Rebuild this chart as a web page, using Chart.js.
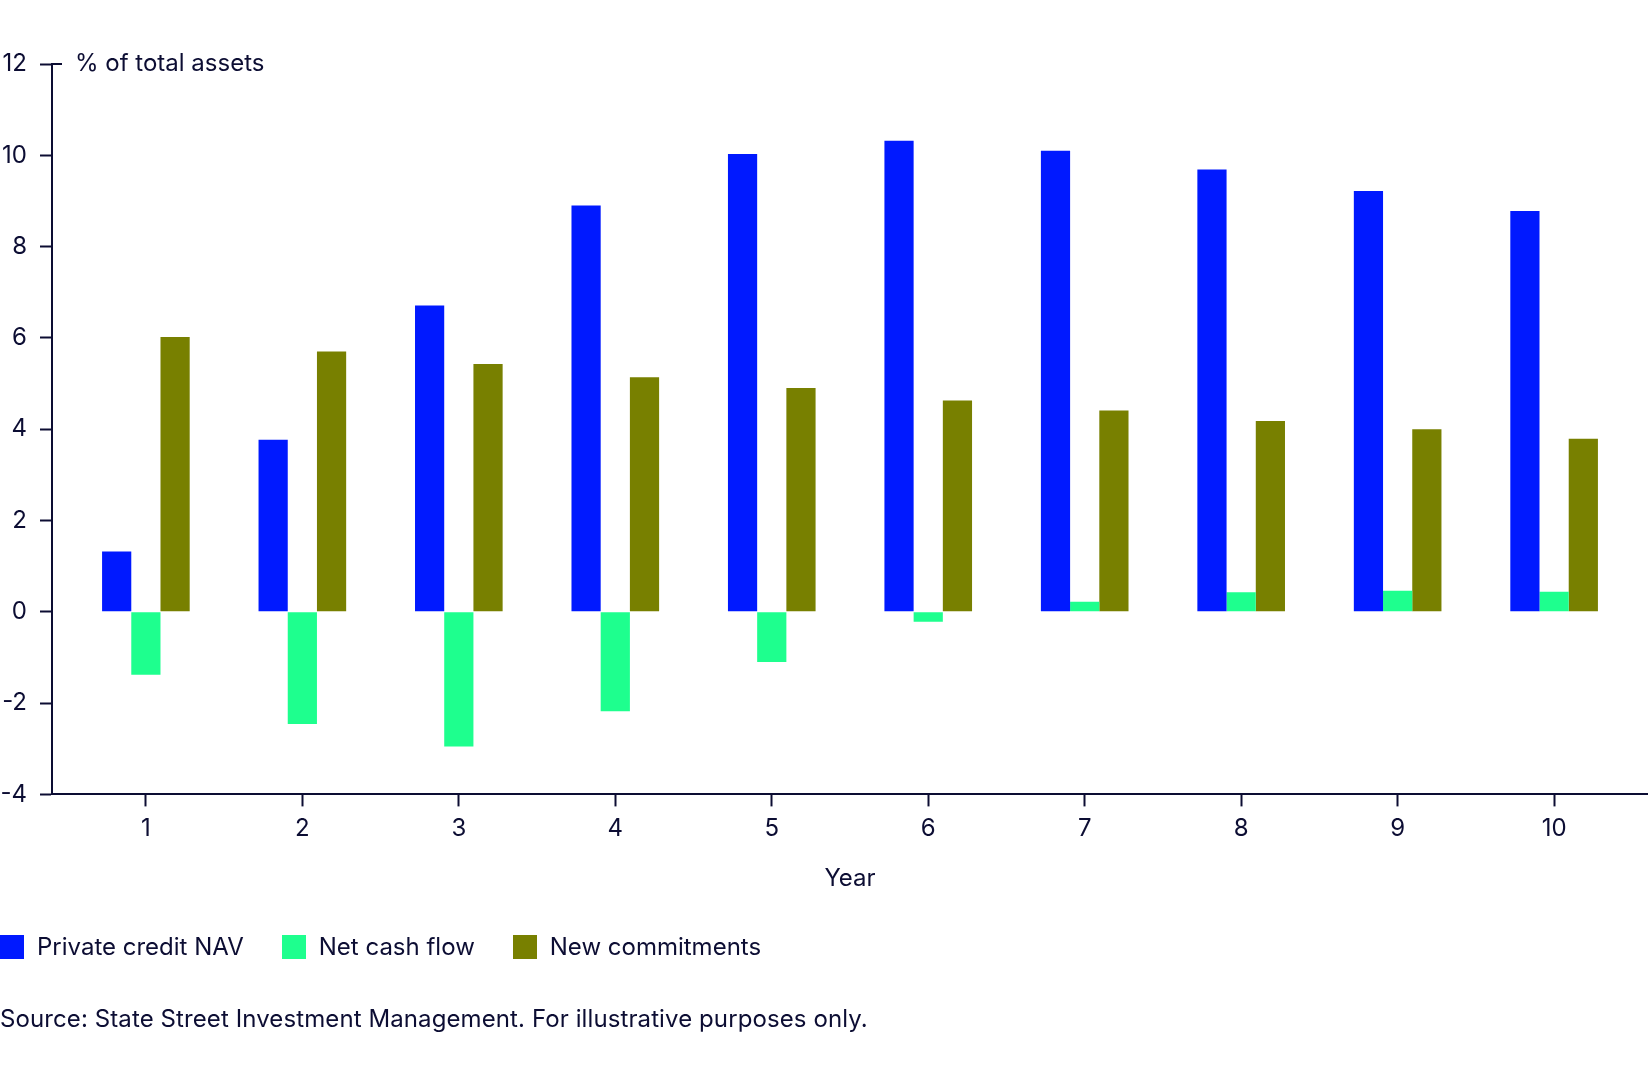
<!doctype html>
<html lang="en">
<head>
<meta charset="utf-8">
<title>Private credit NAV, cash flow and commitments</title>
<script src="https://cdn.jsdelivr.net/npm/chart.js@4.4.1/dist/chart.umd.min.js"></script>
<style>
  html, body { margin: 0; padding: 0; background: #fff; }
  body { width: 1648px; height: 1080px; position: relative; overflow: hidden;
         font-family: Inter, "Noto Sans", sans-serif; color: #0c0d33; }
  #wrap { position: absolute; left: 0; top: 0; width: 1648px; height: 1080px; }
  #legend { position: absolute; left: 0; top: 935px; display: flex; font-size: 24px; line-height: 24px; }
  #legend .item { display: flex; align-items: center; margin-right: 38px; }
  #legend .box { width: 24px; height: 24px; margin-right: 13px; }
  #source { position: absolute; left: 0; top: 1005px; font-size: 24px; line-height: 28px; letter-spacing: 0.1px; }
</style>
</head>
<body>
<div id="wrap"><canvas id="chart"></canvas></div>
<div id="legend"></div>
<div id="source">Source: State Street Investment Management. For illustrative purposes only.</div>
<script>
  var years = [1, 2, 3, 4, 5, 6, 7, 8, 9, 10];
  var nav = [1.32, 3.77, 6.71, 8.9, 10.03, 10.32, 10.1, 9.69, 9.22, 8.78];
  var cashFlow = [-1.38, -2.46, -2.95, -2.18, -1.1, -0.22, 0.22, 0.43, 0.46, 0.44];
  var commitments = [6.02, 5.7, 5.43, 5.14, 4.9, 4.63, 4.41, 4.18, 4.0, 3.79];
  var seriesNames = ['Private credit NAV', 'Net cash flow', 'New commitments'];
  var seriesColors = ['#0019ff', '#1eff8e', '#788000'];
  var yTicks = [-4, -2, 0, 2, 4, 6, 8, 10, 12];

  var ink = '#0c0d33';
  Chart.defaults.font.family = 'Inter';
  Chart.defaults.font.size = 24;
  Chart.defaults.color = ink;

  // axis caption next to the top tick, plus the top tick crossing the axis
  var axisCaption = {
    id: 'axisCaption',
    afterDraw: function (chart) {
      var ctx = chart.ctx, y = chart.scales.y, area = chart.chartArea;
      var top = y.getPixelForValue(yTicks[yTicks.length - 1]);
      ctx.save();
      ctx.strokeStyle = ink;
      ctx.lineWidth = 2;
      ctx.beginPath();
      ctx.moveTo(area.left, top);
      ctx.lineTo(area.left + 10, top);
      ctx.stroke();
      ctx.fillStyle = ink;
      ctx.font = '24px Inter';
      ctx.textBaseline = 'middle';
      ctx.fillText('% of total assets', area.left + 23, top);
      ctx.restore();
    }
  };

  var datasets = [nav, cashFlow, commitments].map(function (vals, i) {
    return {
      label: seriesNames[i],
      data: vals,
      backgroundColor: seriesColors[i],
      borderWidth: 0,
      categoryPercentage: 0.56,
      barPercentage: 1
    };
  });

  var chart = new Chart(document.getElementById('chart'), {
    type: 'bar',
    data: { labels: years, datasets: datasets },
    plugins: [axisCaption],
    options: {
      responsive: true,
      maintainAspectRatio: false,
      animation: false,
      layout: { padding: { top: 64, right: 0, bottom: 187, left: 0 } },
      plugins: { legend: { display: false }, tooltip: { enabled: false } },
      scales: {
        x: {
          type: 'linear',
          min: 0.4,
          max: 10.6,
          offset: false,
          grid: { offset: false, drawOnChartArea: false, tickLength: 12, tickWidth: 2, color: ink },
          border: { display: true, color: ink, width: 2 },
          ticks: { stepSize: 1, includeBounds: false, padding: 8, color: ink },
          afterBuildTicks: function (scale) {
            scale.ticks = years.map(function (v) { return { value: v }; });
          },
          title: { display: true, text: 'Year', color: ink, padding: { top: 13, bottom: 0 } }
        },
        y: {
          min: -4,
          max: 12,
          grid: { drawOnChartArea: false, tickLength: 12, tickWidth: 2, color: ink },
          border: { display: true, color: ink, width: 2 },
          ticks: { stepSize: 2, padding: 13, color: ink },
          afterBuildTicks: function (scale) {
            scale.ticks = yTicks.map(function (v) { return { value: v }; });
          },
          afterFit: function (scale) { scale.width = 52; }
        }
      }
    }
  });

  var legend = document.getElementById('legend');
  chart.data.datasets.forEach(function (ds) {
    var item = document.createElement('div');
    item.className = 'item';
    var box = document.createElement('span');
    box.className = 'box';
    box.style.background = ds.backgroundColor;
    var txt = document.createElement('span');
    txt.textContent = ds.label;
    item.appendChild(box);
    item.appendChild(txt);
    legend.appendChild(item);
  });
</script>
</body>
</html>
